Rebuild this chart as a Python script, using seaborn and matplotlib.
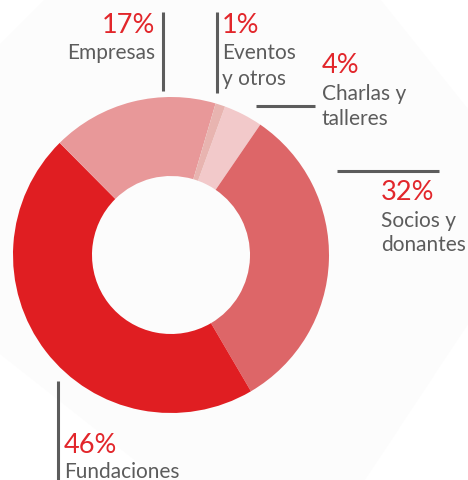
import matplotlib
matplotlib.use("Agg")
import matplotlib.pyplot as plt
import seaborn as sns
from matplotlib.patches import Polygon

sns.set_theme(style="white")
plt.rcParams['font.family'] = ['Lato', 'DejaVu Sans']

# Data (clockwise order starting near the top)
categories = ["Charlas y\ntalleres", "Socios y\ndonantes", "Fundaciones", "Empresas", "Eventos\ny otros"]
values = [4, 32, 46, 17, 1]
pct_labels = ["4%", "32%", "46%", "17%", "1%"]
colors = ["#F2C9CA", "#DD6668", "#E01E22", "#E89899", "#E8B4B0"]

W, H = 468, 481
fig = plt.figure(figsize=(W / 100, H / 100), dpi=100)
fig.patch.set_facecolor("white")

# Overlay axes in pixel coordinates
ov = fig.add_axes([0, 0, 1, 1])
ov.set_xlim(0, W)
ov.set_ylim(H, 0)
ov.axis("off")

# faint background polygon
bg = Polygon([(0, 45), (45, 0), (380, 0), (468, 110), (468, 325), (365, 481),
              (160, 481), (0, 355)], closed=True, facecolor="#fcfcfc", edgecolor="none", zorder=0)
ov.add_patch(bg)

# Donut axes
cx, cy, R = 171, 256, 158
pax = fig.add_axes([(cx - R) / W, (H - cy - R) / H, 2 * R / W, 2 * R / H])
pax.pie(values, colors=colors, startangle=90 - 20, counterclock=False,
        radius=1.0, wedgeprops=dict(width=0.5, edgecolor="none"))
pax.set_xlim(-1, 1)
pax.set_ylim(-1, 1)
pax.axis("off")

red = "#E2262B"
grey = "#5c5c5c"
pfs = 19.5
lfs = 15
lw = 2.2

def put(x, y, s, color, fs, ha="left"):
    ov.text(x, y, s, color=color, fontsize=fs, ha=ha, va="baseline", zorder=5)

# Empresas
ov.plot([163, 163], [13, 92], color=grey, lw=lw, solid_capstyle="butt", zorder=4)
put(155, 33, pct_labels[3], red, pfs, ha="right")
put(155, 59, categories[3], grey, lfs, ha="right")

# Eventos y otros
ov.plot([217, 217], [13, 94], color=grey, lw=lw, solid_capstyle="butt", zorder=4)
put(222, 33, pct_labels[4], red, pfs)
put(222, 59, "Eventos", grey, lfs)
put(222, 85, "y otros", grey, lfs)

# Charlas y talleres
ov.plot([256, 315], [107, 107], color=grey, lw=lw, solid_capstyle="butt", zorder=4)
put(322, 73, pct_labels[0], red, pfs)
put(322, 100, "Charlas y", grey, lfs)
put(322, 125, "talleres", grey, lfs)

# Socios y donantes
ov.plot([337, 439], [172, 172], color=grey, lw=lw, solid_capstyle="butt", zorder=4)
put(381, 200, pct_labels[1], red, pfs)
put(381, 227, "Socios y", grey, lfs)
put(381, 251, "donantes", grey, lfs)

# Fundaciones
ov.plot([58, 58], [382, 481], color=grey, lw=lw, solid_capstyle="butt", zorder=4)
put(64, 453, pct_labels[2], red, pfs)
put(64, 478, categories[2], grey, lfs)

fig.savefig("out.png", dpi=100, facecolor="white")
